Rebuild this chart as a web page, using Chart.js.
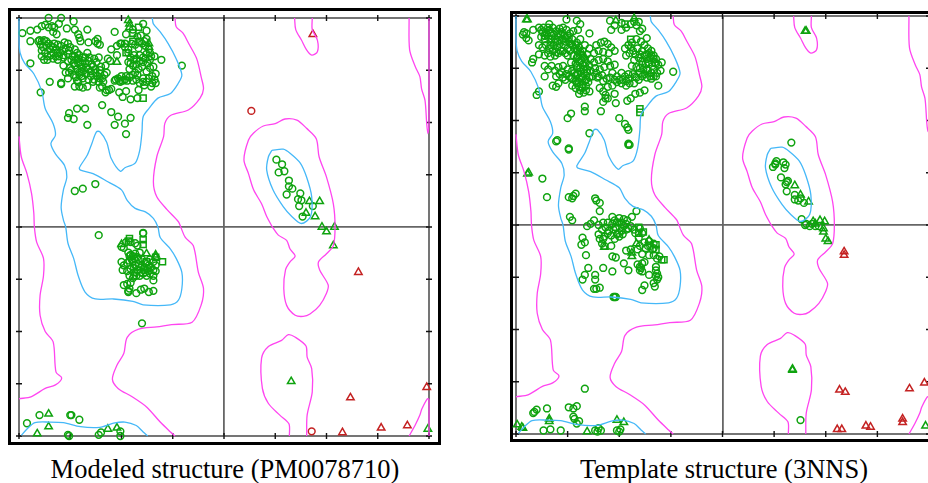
<!DOCTYPE html>
<html>
<head>
<meta charset="utf-8">
<script src="https://cdn.jsdelivr.net/npm/chart.js@4"></script>
<style>
  html, body { margin: 0; padding: 0; background: #fff; }
  body { width: 928px; height: 483px; position: relative; overflow: hidden; }
  canvas { position: absolute; top: 0; }
  .frame { position: absolute; border: 3px solid #000; box-sizing: border-box; }
  .caption { position: absolute; top: 454px; font: 26.5px "Liberation Serif", serif; color: #000; white-space: nowrap; transform: translateX(-50%); }
</style>
</head>
<body>
<div class="frame" style="left:8px;top:8px;width:433px;height:437px"></div>
<div class="frame" style="left:510px;top:11px;width:450px;height:431px"></div>
<canvas id="modelChart" width="445" height="450" style="left:0"></canvas>
<canvas id="templateChart" width="440" height="450" style="left:505px"></canvas>
<div class="caption" style="left:225px">Modeled structure (PM0078710)</div>
<div class="caption" style="left:724px">Template structure (3NNS)</div>
<script>
const tickValues = [-180, -135, -90, -45, 0, 45, 90, 135, 180];

// Contours are the same on both plots
const blueLeft = [[-180,180],[-180,161],[-179,150],[-175,141],[-167,132],[-160,117],[-157,102],[-150,89],[-148,79],[-152,72],[-148,63],[-140,53],[-138,43],[-141,32],[-143,17],[-141,6],[-139,0],[-137,-14],[-132,-27],[-128,-42],[-122,-56],[-113,-62],[-97,-62],[-80,-64],[-71,-67],[-47,-67],[-40,-63],[-37,-53],[-37,-39],[-42,-27],[-47,-19],[-56,-9],[-58,0],[-62,7.5],[-69,13],[-78,16],[-85,23],[-90,32],[-102,39],[-115,46],[-126,49],[-127,51],[-120,62],[-116,72],[-112,82],[-109,82],[-103,73],[-99,59],[-91,48],[-87,51],[-78,55],[-74,66],[-72,82],[-71,95],[-66,102],[-58,111],[-47,115],[-40,124],[-37,131],[-42,145],[-49,158],[-56,168],[-62,175],[-63,180]];
const blueBottom = [[-178,-179.5],[-173,-174],[-166,-168.5],[-153,-168],[-141,-168.5],[-126,-172],[-109,-172.5],[-97,-169],[-87,-168],[-77,-171],[-71,-176.5],[-67,-180]];
const blueLoop = [[42,66],[52,67],[58,63.5],[67,55],[72.5,43],[77,26],[76,9],[68,3],[59.5,9],[52,17.5],[43,32],[37.5,49],[39,60.5],[42,66]];
const magentaMain = [[-43,180],[-42,172.5],[-36,167],[-31,158],[-24,145],[-20,129],[-18,119],[-21,111],[-31,101],[-47,96],[-52,89],[-53,78],[-59,60.5],[-62,39],[-59,26],[-50,15],[-40,4.5],[-38,0],[-34,-9],[-27,-16],[-22.5,-39],[-18,-53],[-20,-67],[-28,-82],[-46,-84],[-59,-86],[-75,-88],[-85,-95],[-88,-109],[-94,-119],[-98,-131],[-93,-139],[-81,-146],[-68,-155],[-56,-168],[-47,-176.5],[-43,-180]];
const magentaLeft = [[-180,78],[-178,60.5],[-173,46],[-169,29],[-167,12],[-166.5,0],[-164.5,-13],[-158.5,-27],[-158.5,-42],[-161.5,-59],[-161.5,-76],[-157,-90],[-150,-99],[-147.5,-125],[-142.5,-130],[-148,-136],[-157,-139],[-169,-146],[-180,-148]];
const magentaTop = [[62,180],[63,170],[68,161],[72.5,152.5],[77,148],[82,151],[82,161],[77.5,170],[77.5,180]];
const magentaRightTop = [[162.5,180],[163,152.5],[168,138],[172,129.5],[173.5,119],[176.5,109],[178,89],[179,80.5],[180,89],[180,180]];
const magentaMiddle = [[42.5,0],[37.5,9],[33,20],[26,32],[21.5,46],[17.5,58],[21.5,75],[26,81],[34.5,87],[45,89],[53.5,93],[64,92],[72.5,85],[81,76],[83.5,60.5],[90,43],[96,20],[97.5,0],[96,-16],[90,-23],[83,-30],[84,-37],[91.5,-50],[90,-57],[84,-67.5],[75.5,-75],[69.5,-77],[62.5,-76],[55,-67.5],[52.5,-53],[54,-37],[58,-30],[62.5,-25],[58,-19],[55,-11.5],[47.7,-7],[42.5,0]];
const magentaLower = [[57.4,-180],[57,-169.5],[49,-162],[39,-152],[33.7,-139],[33,-113],[39,-103],[50.6,-97.6],[56.5,-92.7],[62.3,-94.7],[72,-102.5],[73,-112],[77,-122],[77.5,-142],[73,-162],[72.6,-180]];
const magentaRightBottom = [[162.5,-180],[167.7,-171],[172,-162],[173.6,-157],[178.5,-148],[180,-148.6],[180,-180]];
const blueContours = [blueLeft, blueBottom, blueLoop];
const magentaContours = [magentaMain, magentaLeft, magentaTop, magentaRightTop, magentaMiddle, magentaLower, magentaRightBottom];

// Modeled structure (phi, psi)
const modelCircles = [[-177,167],[-170,169],[-164,170],[-160,173],[-157,174],[-154,172],[-151,173],[-149,172],[-154,180],[-143,180],[-132,177],[-145,175],[-150,168],[-147,166],[-138,171],[-131,170],[-128,166],[-127,163],[-126,160],[-120,170],[-96,168],[-86,166],[-71,175],[-68,169],[-170,160],[-170,141],[-153,125],[-143,124],[-143,123],[-161,116],[-37,139],[-55,144],[-61,147],
[-162,161],[-160,160],[-158,161],[-156,160],[-152,156],[-149,158],[-146,157],[-143,156],[-140,159],[-137,158],[-135,155],[-160,152],[-157,150],[-153,153],[-150,150],[-146,150],[-142,152],[-136,152],[-131,153],[-129,150],[-119,159],[-113,160],[-111,162],[-109,157],[-111,158],[-99,153],[-94,148],[-94,156],[-91,158],[-87,158],
[-158,144],[-155,144],[-150,145],[-146,144],[-141,146],[-137,143],[-133,147],[-130,144],[-127,148],[-124,146],[-120,150],[-118,146],[-114,145],[-110,146],[-102,145],[-139,133],[-141,139],[-135,137],[-131,139],[-128,141],[-125,138],[-122,141],[-119,136],[-116,140],[-112,142],[-108,138],[-104,139],[-100,143],[-125,134],[-127,131],[-121,132],[-117,130],[-113,133],[-109,132],[-105,131],[-137,128],[-129,126],[-124,128],[-119,127],[-114,127],[-109,128],[-106,125],
[-131,121],[-127,121],[-124,120],[-120,121],[-115,125],[-110,125],[-109,120],[-104,116],[-101,118],[-99,119],[-92,116],[-86,117],[-89,112],[-82,110],[-75,118],[-76,111],[-103,118],[-107,121],
[-96,126],[-93,128],[-91,125],[-89,126],[-85,126],[-90,130],[-86,130],[-80,126],[-77,127],[-74,124],[-71,128],[-68,125],[-63,124],[-60,132],[-63,130],[-66,128],[-61,127],
[-90,158],[-87,155],[-84,153],[-81,158],[-78,157],[-75,154],[-72,158],[-69,156],[-66,153],[-84,142],[-82,146],[-79,148],[-77,145],[-74,148],[-71,146],[-68,149],[-65,144],[-83,136],[-78,133],[-75,136],[-72,138],[-68,134],[-65,137],[-62,138],[-80,131],[-76,131],
[-163,160],[-161,157],[-159,155],[-156,156],[-154,158],[-150,155],[-147,153],[-144,150],[-141,148],[-139,154],[-137,149],[-134,144],[-132,141],[-129,136],[-127,133],[-125,130],[-123,135],[-121,137],[-119,143],[-117,134],[-115,138],[-113,136],[-111,130],[-109,135],[-107,128],[-103,133],[-131,147],[-128,145],[-126,142],[-124,143],[-122,146],[-134,135],[-132,131],[-136,133],[-130,129],[-128,125],[-155,147],[-152,148],[-148,147],[-145,147],[-160,147],
[-84,150],[-82,141],[-80,139],[-77,140],[-74,143],[-71,142],[-69,145],[-67,141],[-65,150],[-64,147],[-70,160],[-68,162],[-73,165],[-76,164],[-80,170],[-95,127],[-92,126],[-87,127],[-83,129],[-71,125],[-70,122],[-60,124],[-64,121],
[-136,98],[-129,102],[-122,102],[-107,105],[-99,99],[-93,95],[-82,94],[-137,94],[-132,93],[-120,88],[-96,88],[-87,89],[-86,80],[-113,37],[-124,33],[-131,31],
[-71,-5],[-71,-5.5],[-110,-7],[-90,-17],[-88,-18],[-86,-13],[-82,-13],[-78,-14],[-76,-16],[-84,-22],[-82,-24],[-80,-25],[-78,-23],[-76,-26],[-74,-22],[-90,-30],[-88,-33],[-85,-31],[-83,-29],[-80,-30],[-78,-33],[-75,-32],[-72,-28],[-69,-31],[-65,-28],[-62,-30],[-89,-37],[-85,-38],[-82,-36],[-79,-39],[-76,-37],[-73,-35],[-70,-37],[-67,-36],[-64,-35],[-60,-33],[-83,-42],[-80,-44],[-77,-42],[-74,-42],[-71,-40],[-68,-42],[-65,-40],[-62,-42],[-60,-38],[-62,-46],[-88,-50],[-85,-49],[-83,-53],[-84,-55],[-84,-56],[-82,-48],[-77,-57],[-73,-54],[-70,-53],[-66,-56],[-62,-55],
[-83,-25],[-81,-28],[-79,-27],[-75,-28],[-72,-33],[-70,-35],[-66,-33],[-73,-39],[-69,-39],[-66,-38],[-79,-35],[-79,-42],[-62,-37],
[-135,-162],[-134,-162],[-127,-166],[-162,-162],[-173,-169],[-137,-179],[-136,-180],[-110,-179],[-108,-177],[-91,-176],[-91,-180],[-72,-83]];
const modelTriangles = [[-83,175],[-84,178],[-83,172],[-66,158],[-66,155],[-94,142],[-68,-23],[-60,-26],[-60,-24],[-90,-15],[-154,-161],[-154,-172],[-164,-178],[-102,-174],[-94,-173],[75,22],[84,22],[72,12],[80,9],[86,0],[97,0],[90,-4],[96,-16],[59,-133],[179,-174]];
const modelSquares = [[-75,172],[-80,160],[-74,160],[-86,150],[-80,167],[-79,144],[-71,111],[-83,-10],[-84,-12],[-71,-11],[-71,-15],[-54,-30],[-60,-26],[-68,-30]];
const modelLoopCircles = [[46,58],[51,54],[53,48],[48,47],[57,40],[57,35],[60,33],[67,29],[55,28],[65,24],[68,23],[66,18],[78,18],[69,9]];
const modelRedCircles = [[24,100],[77,-176]];
const modelRedTriangles = [[78,166],[118,-39],[111,-147],[138,-173],[161,-171],[104,-177],[178,-138]];

// Template structure (phi, psi)
const templateCircles = [[-165,168],[-174,164],[-171,165],[-169,159],[-171,161],[-173,166],[-151,173],[-136,177],[-127,176],[-124,173],[-116,165],[-98,176],[-97,168],[-88,174],[-80,173],[-73,175],[-66,161],[-70,169],[-43,132],[-53,140],[-56,120],[-155,128],[-160,115],[-162,112],[-166,140],[-165,143],[-160,147],
[-156,170],[-154,166],[-151,168],[-148,170],[-145,167],[-142,169],[-139,170],[-136,168],[-133,165],[-130,167],[-126,168],[-158,162],[-155,160],[-152,162],[-149,163],[-146,160],[-143,162],[-140,159],[-137,161],[-134,158],[-131,160],[-127,157],[-124,160],[-160,155],[-157,153],[-154,155],[-151,152],[-147,155],[-144,153],[-141,150],[-138,155],[-135,152],[-125,153],[-122,150],[-120,155],[-116,152],[-127,150],[-155,146],[-150,145],[-146,146],[-135,146],
[-130,146],[-127,144],[-124,147],[-121,144],[-118,147],[-115,143],[-112,148],[-110,155],[-106,157],[-103,158],[-100,156],[-97,153],[-94,150],[-108,150],[-104,149],[-99,148],[-132,140],[-128,139],[-125,141],[-122,138],[-119,140],[-116,137],[-112,140],[-108,142],[-104,143],[-100,141],[-155,137],[-152,134],[-149,137],[-146,133],[-143,136],[-139,137],[-135,134],[-131,133],[-127,135],[-124,132],[-121,134],[-118,131],[-115,133],[-111,135],[-107,134],[-103,136],[-98,137],[-94,138],[-145,128],[-142,130],[-139,127],[-136,130],[-132,127],[-128,129],[-125,126],[-122,128],[-119,125],[-116,127],[-113,128],[-109,127],[-105,129],[-101,126],[-96,131],[-92,128],[-88,131],[-85,128],[-82,130],[-148,120],[-145,119],[-143,122],[-131,120],[-127,122],[-125,119],[-122,121],[-119,120],[-107,118],[-104,115],[-100,119],[-96,120],[-92,123],[-88,122],[-84,124],[-81,122],[-77,122],[-73,125],
[-128,155],[-126,151],[-124,149],[-122,146],[-120,143],[-126,145],[-123,142],[-120,137],[-127,137],[-124,135],[-121,131],[-118,134],[-126,130],[-123,127],[-120,124],[-117,123],[-128,124],[-125,123],[-122,118],[-119,116],[-121,114],[-125,113],[-116,115],
[-160,170],[-158,168],[-157,166],[-155,163],[-153,164],[-152,170],[-150,166],[-149,160],[-147,164],[-146,157],[-144,158],[-143,165],[-141,164],[-140,166],[-138,163],[-137,158],[-135,163],[-134,161],[-132,156],[-150,155],[-148,150],[-145,149],[-143,148],[-142,156],[-139,150],[-137,148],[-133,150],[-131,155],[-129,152],[-152,148],
[-140,132],[-137,125],[-134,128],[-131,126],[-129,131],[-110,131],[-108,128],[-104,124],[-98,127],[-94,125],[-90,125],[-87,125],[-84,120],[-82,126],[-78,130],[-75,127],[-72,131],[-68,130],[-66,134],[-63,128],[-60,128],[-57,131],[-54,133],[-80,153],[-76,147],[-72,147],[-68,146],[-64,148],[-62,146],[-58,139],[-56,138],[-70,138],[-66,143],[-60,143],
[-128,118],[-124,116],[-102,112],[-100,109],[-104,106],[-93,105],[-94,113],[-83,107],[-80,109],[-76,113],[-72,114],[-68,116],[-120,102],[-120,98],[-132,96],[-135,92],[-106,98],[-102,109],[-90,92],[-85,87],[-83,84],[-82,82],[-116,79],[-145,72],[-144,73],[-134,66],[-134,65],[-82,69],[-81,69],[-82,70],[-157,40],[-153,24],[-134,24],[-131,23],[-128,27],[-130,25],[-111,23],[-110,21],[-107,19],[-107,12],[-133,7],[-131,4],[-75,12],[-79,7],
[-85,152],[-82,155],[-79,157],[-75,160],[-71,158],[-68,155],[-65,152],[-62,150],[-60,146],[-58,143],[-84,146],[-81,148],[-78,150],[-74,152],[-70,150],[-66,147],[-63,144],[-59,140],[-77,142],[-73,144],[-70,141],[-67,139],[-64,140],[-61,137],[-75,136],[-72,135],[-69,134],[-65,133],[-62,131],[-60,134],[-79,137],[-76,128],[-70,128],[-66,127],[-62,126],[-58,128],[-94,172],[-88,168],[-84,170],[-77,175],[-75,172],[-72,167],
[-96,7],[-90,6],[-86,5],[-83,4],[-112,4],[-115,1],[-118,-1],[-100,2],[-96,1],[-92,2],[-88,2],[-84,1],[-105,-4],[-108,-8],[-102,-2],[-99,-5],[-95,-4],[-92,-8],[-90,-7],[-87,-8],[-84,-4],[-77,-4],[-80,-1],[-72,-3],[-70,-7],[-105,-16],[-103,-18],[-97,-18],[-120,-15],[-123,-17],[-122,-11],[-119,-26],[-96,-27],[-93,-28],[-84,-22],[-80,-21],[-86,-33],[-82,-39],[-117,-37],[-120,-43],[-122,-47],[-104,-37],[-96,-40],[-111,-43],[-111,-47],[-112,-55],[-110,-55],[-107,-54],[-94,-62],[-93,-62],[-95,-62],[-70,-33],[-72,-39],[-68,-32],[-70,-40],[-64,-43],[-58,-36],[-57,-42],[-57,-47],[-59,-53],[-68,-52],[-70,-56],[-72,-36],[-58,-44],[-56,-45],[-60,-50],
[-108,0],[-104,2],[-94,4],[-90,2],[-86,-1],[-82,-3],[-76,-7],[-100,-7],[-97,-9],[-103,-10],[-94,-12],[-90,-10],[-88,-5],[-73,-11],[-60,-20],[-65,-18],[-68,-15],[-55,-27],[-71,-37],[-74,-34],[-58,-39],
[-64,-14],[-60,-16],[-61,-21],[-64,-26],[-60,-26],[-57,-29],[-72,-18],[-74,-21],[-70,-25],[-67,-20],[-63,-18],[-107,-12],[-104,-12],
[-165,-162],[-164,-161],[-162,-159],[-153,-158],[-134,-157],[-130,-158],[-127,-156],[-120,-141],[-130,-165],[-129,-167],[-125,-169],[-127,-171],[-156,-177],[-150,-176],[-141,-177],[-111,-177],[-108,-175],[-106,-177],[-92,-177],[-89,-176],[-90,-178],[-109,-178],[68,-168]];
const templateTriangles = [[-171,177],[-170,177],[-170,44],[-169,45],[-179,-172],[-175,-174],[-174,-175],[-151,-167],[-151,-169],[-118,-178],[-92,-168],[-86,-170],[-79,-24],[-79,-27],[-75,-16],[-64,-13],[-93,176],[-77,178],[-103,-19],[72,167],[73,167],[63,34],[68,26],[75,20],[79,3],[85,4],[89,3],[81,1],[88,-3],[88,-6],[90,-12],[92,-14],[61,-125],[61,-124],[177,-173]];
const templateSquares = [[-72,100],[-72,97],[-73,-2],[-69,-6],[-73,-7],[-58,-17],[-58,-21],[-53,-30],[-51,-30],[-93,-2],[-85,173],[-80,160]];
const templateLoopCircles = [[60,71],[47,55],[46,52],[44,50],[53,54],[55,52],[54,49],[51,41],[57,38],[55,35],[56,29],[63,26],[63,22],[66,21],[68,23],[71,19],[69,5],[73,1],[76,-1],[81,-1],[46,53],[56,37],[72,0],[78,1],[84,-1]];
const templateRedTriangles = [[106,-23],[106,-26],[102,-142],[107,-144],[100,-176],[104,-176],[125,-173],[129,-174],[157,-167],[157,-170],[163,-141],[176,-136]];

const GREEN = '#0fa30f';
const RED = '#c42222';
const toPoints = (list) => list.map(([x, y]) => ({ x, y }));

const lineSet = (list, color) => ({
  type: 'scatter',
  data: toPoints(list),
  showLine: true,
  borderColor: color,
  borderWidth: 1.3,
  pointRadius: 0,
  tension: 0.3,
  clip: false,
});

const markSet = (list, style, color) => ({
  type: 'scatter',
  data: toPoints(list),
  pointStyle: style,
  pointRadius: style === 'circle' ? 3.4 : 4.3,
  pointBorderColor: color,
  pointBackgroundColor: 'transparent',
  pointBorderWidth: 1.5,
  clip: false,
});

// Frame and the small ticks on all four sides
const framePlugin = {
  id: 'frame',
  beforeDatasetsDraw(chart) {
    const { ctx, chartArea: a, scales } = chart;
    ctx.save();
    ctx.strokeStyle = '#666';
    ctx.lineWidth = 1.8;
    ctx.strokeRect(a.left, a.top, a.right - a.left, a.bottom - a.top);
    ctx.strokeStyle = '#111';
    ctx.lineWidth = 1.4;
    ctx.beginPath();
    tickValues.forEach((v) => {
      const x = scales.x.getPixelForValue(v);
      const y = scales.y.getPixelForValue(v);
      ctx.moveTo(x, a.top - 3); ctx.lineTo(x, a.top + 3);
      ctx.moveTo(x, a.bottom - 3); ctx.lineTo(x, a.bottom + 3);
      ctx.moveTo(a.left - 3, y); ctx.lineTo(a.left + 3, y);
      ctx.moveTo(a.right - 3, y); ctx.lineTo(a.right + 3, y);
    });
    ctx.stroke();
    ctx.restore();
  },
};

const axis = () => ({
  type: 'linear',
  min: -180,
  max: 180,
  border: { display: false },
  ticks: { display: false },
  grid: {
    color: (c) => (c.tick.value === 0 ? '#666' : 'transparent'),
    lineWidth: 1.8,
    drawTicks: false,
  },
  afterBuildTicks: (scale) => { scale.ticks = tickValues.map((value) => ({ value })); },
  afterFit: (scale) => {
    if (scale.isHorizontal()) scale.height = 0;
    else scale.width = 0;
  },
});

function makePlot(id, padding, marks) {
  new Chart(document.getElementById(id), {
    type: 'scatter',
    data: {
      datasets: [
        ...blueContours.map((c) => lineSet(c, '#45b8f8')),
        ...magentaContours.map((c) => lineSet(c, '#ff45f0')),
        ...marks,
      ],
    },
    options: {
      responsive: false,
      animation: false,
      layout: { padding },
      plugins: { legend: { display: false }, tooltip: { enabled: false } },
      scales: { x: axis(), y: axis() },
    },
    plugins: [framePlugin],
  });
}

makePlot('modelChart', { left: 19, top: 18, right: 16, bottom: 14 }, [
  markSet(modelCircles, 'circle', GREEN),
  markSet(modelLoopCircles, 'circle', GREEN),
  markSet(modelTriangles, 'triangle', GREEN),
  markSet(modelSquares, 'rect', GREEN),
  markSet(modelRedCircles, 'circle', RED),
  markSet(modelRedTriangles, 'triangle', RED),
]);

makePlot('templateChart', { left: 11, top: 16, right: 16, bottom: 16 }, [
  markSet(templateCircles, 'circle', GREEN),
  markSet(templateLoopCircles, 'circle', GREEN),
  markSet(templateTriangles, 'triangle', GREEN),
  markSet(templateSquares, 'rect', GREEN),
  markSet(templateRedTriangles, 'triangle', RED),
]);
</script>
</body>
</html>
